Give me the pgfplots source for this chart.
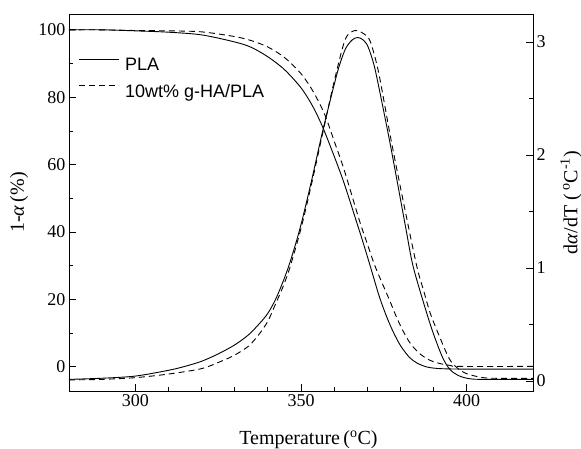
\documentclass[border=0pt]{standalone}
\usepackage{fontspec}
\setmainfont{Liberation Serif}
\newfontfamily\legfont{Liberation Sans}
\usepackage{pgfplots}
\pgfplotsset{compat=1.18}
\begin{document}
\begin{tikzpicture}
\pgfplotsset{
  common/.style={
    scale only axis, width=464pt, height=377pt,
    xmin=280, xmax=420,
    tick align=inside,
    major tick length=7pt, minor tick length=4pt,
    axis line style={line width=0.8pt},
    every tick/.style={line width=0.8pt, black},
    tick label style={font=\fontsize{18}{20}\selectfont},
    /pgf/number format/assume math mode=true,
    label style={font=\fontsize{20}{22}\selectfont},
  },
  tg/.style={line width=0.9pt, black, smooth, tension=0.5},
}
\begin{axis}[common, name=ax,
  ymin=-7.2, ymax=104.7,
  xtick={300,350,400}, minor x tick num=4,
  ytick={0,20,40,60,80,100}, minor y tick num=1,
  xtick pos=bottom, ytick pos=left,
  xlabel={Temperature\,(\textsuperscript{o}C)},
  ylabel={1-\textit{α}\,(\%)},
  xlabel style={at={(axis description cs:0.516,-0.1432)}, anchor=base},
  ylabel style={at={(axis description cs:-0.1078,0.5)}, anchor=center},
  legend style={draw=none, fill=none, at={(axis description cs:0,1)}, anchor=north west,
    xshift=9pt, yshift=-42pt, inner sep=0pt, row sep=8pt, column sep=4pt,
    nodes={inner sep=2pt}, font=\legfont\fontsize{18}{20}\selectfont},
  legend cell align=left,
  legend image code/.code={\draw[#1] (0pt,6pt) -- (40pt,6pt);},
]
\addplot[tg] coordinates {
(280,100) (290,100) (300,99.7) (310,99.3) (320,98.5) (330,96.4) (335,94.8) (340,92.0)
(345,88.2) (350,82.8) (353.6,77.2) (356.6,71) (360,62.5) (363,54.5) (366.6,43.5) (368.7,37)
(370.7,30.5) (372.2,25.5) (373.7,20.6) (375.7,15.2) (377.7,10.6) (380,6.3) (382.7,2.8)
(385,1.1) (387.7,0) (390,-0.4) (393,-0.6) (400,-0.7) (420,-0.7)};
\addlegendentry{PLA}
\addplot[tg, dash pattern=on 6pt off 4pt] coordinates {
(280,100) (290,100) (300,99.8) (310,99.7) (320,99.4) (330,98) (335,96.8) (340,94.9)
(345,91.8) (350,87.0) (353.6,81.8) (357.1,75) (360,67) (363,58.5) (367.6,43.5) (370,36.5)
(372.2,30.2) (374.5,24.8) (376.7,19.8) (378.7,15.0) (380.7,10.8) (383,6.9) (385.7,4)
(388.5,2.1) (391.7,1.0) (395,0.4) (398,0.1) (420,0.1)};
\addlegendentry{10wt\% g-HA/PLA}
\end{axis}
\begin{axis}[common,
  ymin=-0.088, ymax=3.248,
  axis x line=none, axis y line*=right,
  ytick={0,1,2,3}, minor y tick num=1,
  ylabel={d\textit{α}/dT (\,\textsuperscript{o}C\textsuperscript{-1})},
  ylabel style={at={(axis description cs:1.0819,0.5)}, anchor=center, rotate=0},
]
\addplot[tg] coordinates {
(280,0.015) (290,0.025) (300,0.044) (310,0.095) (315,0.13) (320,0.175) (325,0.24) (330,0.32)
(334.2,0.41) (337.5,0.51) (340,0.6) (342.6,0.74) (346.1,1.0) (349.6,1.34) (353,1.75)
(356.6,2.22) (360.6,2.69) (362,2.83) (363.6,2.95) (365.5,3.02) (367.1,3.04) (368.7,3.02)
(370.2,2.96) (372,2.8) (373.7,2.57) (376.7,2.13) (379,1.77) (381.7,1.34) (383.7,1.03)
(386.7,0.72) (389.7,0.44) (392.7,0.21) (395,0.1) (397.8,0.045) (401,0.02) (405,0.015) (420,0.015)};
\addplot[tg, dash pattern=on 6pt off 4pt] coordinates {
(280,0.01) (290,0.015) (300,0.03) (310,0.062) (320,0.11) (326.3,0.18) (330,0.23) (334.2,0.31)
(337.5,0.42) (340,0.53) (342,0.66) (344.5,0.83) (346.6,1.0) (350,1.35) (353,1.72) (356.6,2.2)
(360,2.65) (363.3,3.02) (366,3.1) (368,3.09) (370.5,3.03) (372,2.9) (373.7,2.69) (377.2,2.13)
(381,1.57) (384.9,1.02) (387,0.8) (389,0.6) (391.7,0.4) (394.7,0.2) (397,0.12) (400,0.065)
(405,0.03) (410,0.024) (420,0.024)};
\end{axis}
\pgfresetboundingbox
\path ([shift={(-69pt,-57pt)}]ax.south west) rectangle ([shift={(48pt,14pt)}]ax.north east);
\end{tikzpicture}
\end{document}
